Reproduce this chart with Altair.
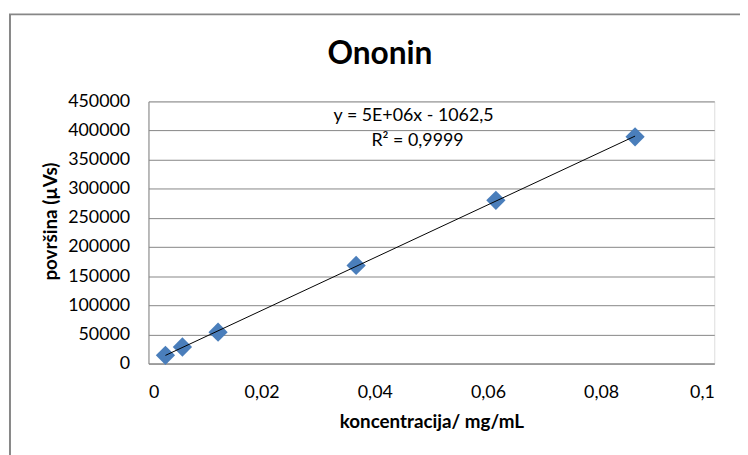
import altair as alt
import pandas as pd

# Data
konc = [0.003, 0.006, 0.0123, 0.0367, 0.0614, 0.086]
povrsina = [14100, 28400, 53800, 168400, 280200, 389200]
x_ticks = [0, 0.02, 0.04, 0.06, 0.08, 0.1]
y_ticks = [0, 50000, 100000, 150000, 200000, 250000, 300000, 350000, 400000, 450000]
eq_lines = ["y = 5E+06x - 1062,5", "R² = 0,9999"]

df = pd.DataFrame({"x": konc, "y": povrsina})

FONT = "Lato"
BLUE = "#4A7EBB"
GRID = "#868686"

xaxis = alt.Axis(
    values=x_ticks,
    labelExpr="replace(format(datum.value, '~g'), '.', ',')",
    title="koncentracija/ mg/mL",
    grid=False,
    ticks=False,
    tickSize=0,
    labelOverlap=False,
    labelPadding=20,
    labelFontSize=18,
    labelFont=FONT,
    labelColor="#000000",
    titleFont=FONT,
    titleFontSize=19,
    titleFontWeight="bold",
    titleColor="#000000",
    titleY=59,
    titleBaseline="middle",
    domainColor=GRID,
    domainWidth=1,
)
yaxis = alt.Axis(
    values=y_ticks,
    format="d",
    title="površina (µVs)",
    grid=True,
    gridColor=GRID,
    gridWidth=1,
    ticks=False,
    tickSize=0,
    labelOverlap=False,
    labelPadding=19,
    labelFontSize=18,
    labelFont=FONT,
    labelColor="#000000",
    titleFont=FONT,
    titleFontSize=19,
    titleFontWeight="bold",
    titleColor="#000000",
    titleX=-99,
    titleY=121,
    titleBaseline="middle",
    domainColor=GRID,
    domainWidth=1,
)
xscale = alt.Scale(domain=[0, 0.1], nice=False)
yscale = alt.Scale(domain=[0, 450000], nice=False)

base = alt.Chart(df)

frame = base.mark_rect(fill=None, stroke="#878787", strokeWidth=2, clip=False).encode(
    x=alt.value(-140), x2=alt.value(620), y=alt.value(-88), y2=alt.value(380)
).transform_filter("datum.x == 0.003")

points = base.mark_point(shape="diamond", filled=True, size=380, color=BLUE, opacity=1).encode(
    x=alt.X("x:Q", scale=xscale, axis=xaxis),
    y=alt.Y("y:Q", scale=yscale, axis=yaxis),
)

trend = base.transform_regression("x", "y").mark_line(color="#000000", strokeWidth=1).encode(
    x=alt.X("x:Q", scale=xscale, axis=xaxis),
    y=alt.Y("y:Q", scale=yscale, axis=yaxis),
)

eq1 = alt.Chart(pd.DataFrame({"t": [eq_lines[0]]})).mark_text(
    font=FONT, fontSize=18, color="#000000", align="center", baseline="middle"
).encode(text="t:N", x=alt.value(268), y=alt.value(15))
eq2 = alt.Chart(pd.DataFrame({"t": [eq_lines[1]]})).mark_text(
    font=FONT, fontSize=18, color="#000000", align="center", baseline="middle"
).encode(text="t:N", x=alt.value(272), y=alt.value(40))

chart = alt.layer(frame, points, trend, eq1, eq2).properties(
    width=572,
    height=265,
    title=alt.TitleParams(
        "Ononin", font=FONT, fontSize=32, fontWeight="bold", color="#000000",
        anchor="middle", frame="group", dx=-52, offset=-83, baseline="alphabetic",
    ),
    autosize=alt.AutoSizeParams(type="none"),
    padding={"left": 142, "top": 92, "right": 26, "bottom": 90},
).configure_view(stroke=None).configure(background="#FFFFFF")

chart.save("out.html", embed_options={"renderer": "svg", "actions": False})
